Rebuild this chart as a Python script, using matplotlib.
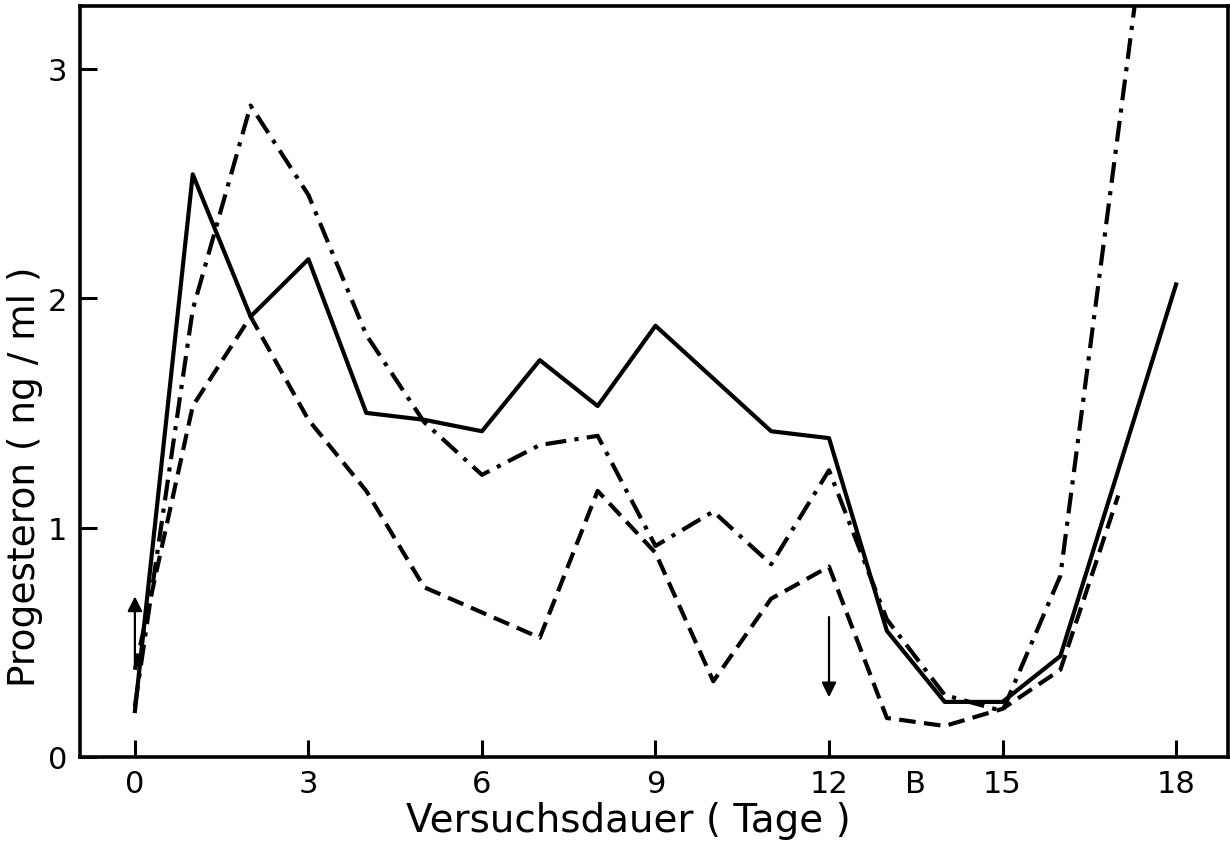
import matplotlib.pyplot as plt

plt.rcParams['font.family'] = ['DejaVu Sans']

# Versuchstage und Progesteronwerte (ng/ml)
tage_a = [0, 1, 2, 3, 4, 5, 6, 7, 8, 9, 11, 12, 13, 14, 15, 16, 18]
werte_a = [0.20, 2.54, 1.92, 2.17, 1.50, 1.47, 1.42, 1.73, 1.53, 1.88,
           1.42, 1.39, 0.55, 0.24, 0.24, 0.44, 2.06]

tage_b = [0, 1, 2, 3, 4, 5, 6, 7, 8, 9, 10, 11, 12, 13, 14, 15, 16, 18]
werte_b = [0.22, 1.95, 2.84, 2.45, 1.84, 1.46, 1.23, 1.36, 1.40, 0.92,
           1.07, 0.84, 1.25, 0.60, 0.27, 0.20, 0.79, 4.66]

tage_c = [0, 1, 2, 3, 4, 5, 7, 8, 9, 10, 11, 12, 13, 14, 15, 16, 17]
werte_c = [0.38, 1.53, 1.92, 1.47, 1.16, 0.74, 0.52, 1.16, 0.89, 0.33,
           0.69, 0.83, 0.17, 0.135, 0.21, 0.38, 1.14]

x_ticks = [0, 3, 6, 9, 12, 15, 18]
x_labels = ['0', '3', '6', '9', '12', '15', '18']
y_ticks = [0, 1, 2, 3]

# Pfeile: (Tag, Start, Ende)
pfeile = [(0, 0.39, 0.70), (12, 0.61, 0.26)]


def main():
    fig = plt.figure(figsize=(12.3, 8.45), dpi=100)
    ax = fig.add_axes([0.065, 0.103, 0.933, 0.889])

    lw = 3.0
    ax.plot(tage_a, werte_a, color='black', lw=lw, linestyle='-')
    ax.plot(tage_b, werte_b, color='black', lw=lw, linestyle=(0, (5, 2, 1, 2)))
    ax.plot(tage_c, werte_c, color='black', lw=lw, linestyle=(0, (4, 2)))

    for tag, y0, y1 in pfeile:
        ax.annotate('', xy=(tag, y1), xytext=(tag, y0),
                    arrowprops=dict(arrowstyle='-|>', color='black', lw=1.6,
                                    mutation_scale=22, shrinkA=0, shrinkB=0))

    ax.set_xlim(-0.95, 18.89)
    ax.set_ylim(0, 3.275)

    ax.set_xticks(x_ticks)
    ax.set_xticklabels(x_labels)
    ax.set_xticks([13.5], minor=True)
    ax.set_xticklabels(['B'], minor=True)
    ax.set_yticks(y_ticks)

    ax.tick_params(axis='both', which='major', direction='in', length=12,
                   width=2.2, labelsize=22, pad=9)
    ax.tick_params(axis='x', which='both', pad=9)
    ax.tick_params(axis='x', which='minor', length=0, labelsize=22)

    for s in ax.spines.values():
        s.set_linewidth(2.6)

    ax.set_xlabel('Versuchsdauer ( Tage )', fontsize=28)
    ax.set_ylabel('Progesteron ( ng / ml )', fontsize=27)
    ax.xaxis.set_label_coords(0.478, -0.058)
    ax.yaxis.set_label_coords(-0.032, 0.374)

    fig.savefig('out.png', dpi=100)


if __name__ == "__main__":
    main()
